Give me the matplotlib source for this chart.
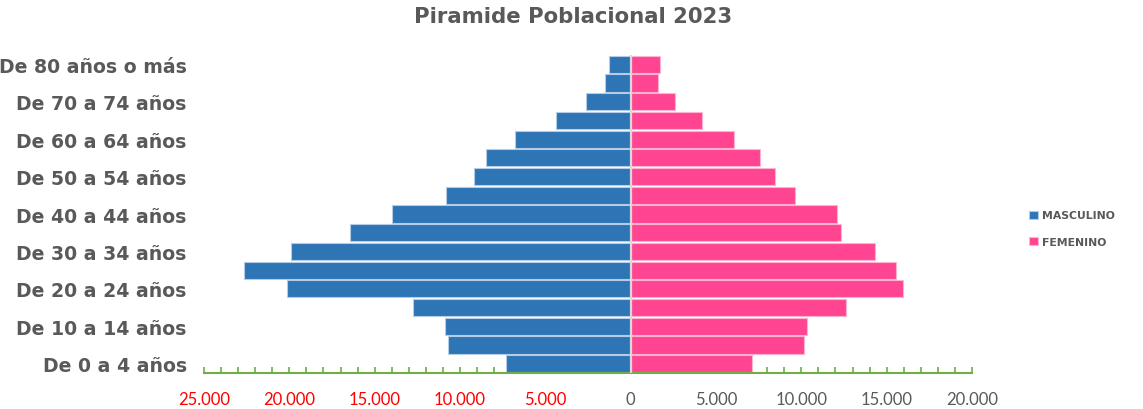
import matplotlib
matplotlib.use("Agg")
import matplotlib.pyplot as plt
from matplotlib.ticker import MultipleLocator, FixedLocator

# grupos de edad, de abajo hacia arriba
grupos = ["De 0 a 4 años", "De 5 a 9 años", "De 10 a 14 años", "De 15 a 19 años",
          "De 20 a 24 años", "De 25 a 29 años", "De 30 a 34 años", "De 35 a 39 años",
          "De 40 a 44 años", "De 45 a 49 años", "De 50 a 54 años", "De 55 a 59 años",
          "De 60 a 64 años", "De 65 a 69 años", "De 70 a 74 años", "De 75 a 79 años",
          "De 80 años o más"]
masculino = [7290, 10690, 10890, 12770, 20160, 22660, 19880, 16460, 14000, 10810,
             9210, 8450, 6760, 4360, 2620, 1520, 1290]
femenino = [7080, 10175, 10350, 12610, 15980, 15560, 14310, 12340, 12060, 9650,
            8480, 7560, 6040, 4150, 2590, 1600, 1735]
xticks = [-25000, -20000, -15000, -10000, -5000, 0, 5000, 10000, 15000, 20000]

azul = "#2E75B6"
rosa = "#FF4591"
gris = "#595959"
verde = "#70AD47"

fig = plt.figure(figsize=(11.43, 4.10), dpi=100)
ax = fig.add_axes([0.1785, 0.0878, 0.6719, 0.7756])

y = list(range(len(grupos)))
ax.barh(y, [-m for m in masculino], height=0.92, color=azul,
        edgecolor="#B4CCE6", linewidth=0.8, label="MASCULINO", zorder=2)
ax.barh(y, femenino, height=0.92, color=rosa,
        edgecolor="#FFB3D1", linewidth=0.8, label="FEMENINO", zorder=2)
ax.axvline(0, color="#D9D9D9", lw=1.6, zorder=3)

ax.set_xlim(-25000, 20000)
ax.set_ylim(-0.5, len(grupos) - 0.5)

ax.yaxis.set_major_locator(FixedLocator(y[::2]))
ax.set_yticklabels(grupos[::2], fontsize=13.6, fontweight="bold", color=gris,
                   family="DejaVu Sans")
ax.tick_params(axis="y", length=0, pad=12.5)

ax.xaxis.set_major_locator(FixedLocator(xticks))
ax.xaxis.set_minor_locator(MultipleLocator(1000))
ax.set_xticklabels([f"{abs(v):,}".replace(",", ".") for v in xticks],
                   fontsize=12, family="Lato")
for lab, v in zip(ax.get_xticklabels(), xticks):
    lab.set_color("#FF0000" if v < 0 else gris)
ax.tick_params(axis="x", which="both", direction="in", length=4, width=1.2,
               color=verde, pad=13)

for s in ["top", "right", "left"]:
    ax.spines[s].set_visible(False)
ax.spines["bottom"].set_color(verde)
ax.spines["bottom"].set_linewidth(1.5)

fig.suptitle("Piramide Poblacional 2023", x=0.501, y=0.982, fontsize=15.3,
             fontweight="bold", color=gris, family="DejaVu Sans")

leg = fig.legend(loc="center left", bbox_to_anchor=(0.892, 0.44), frameon=False,
                 handlelength=0.8, handleheight=0.8, handletextpad=0.4,
                 labelspacing=1.5, prop={"family": "DejaVu Sans", "weight": "bold",
                                         "size": 7.8})
for t in leg.get_texts():
    t.set_color(gris)

fig.savefig("out.png", dpi=100)
